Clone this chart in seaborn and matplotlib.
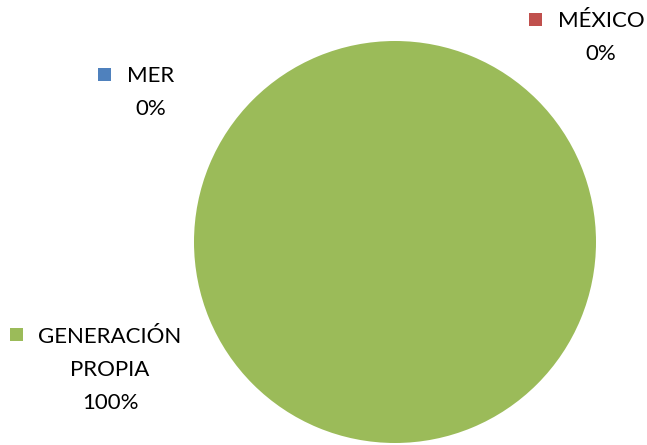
import matplotlib
matplotlib.use("Agg")
import matplotlib.pyplot as plt
import seaborn as sns
from matplotlib.patches import Rectangle

# data
categories = ["MER", "MÉXICO", "GENERACIÓN PROPIA"]
values = [0.0, 0.0, 100.0]
pct_labels = ["0%", "0%", "100%"]
colors = ["#4F81BD", "#C0504D", "#9BBB59"]

sns.set_style("white")
plt.rcParams["font.family"] = ["Lato", "DejaVu Sans"]

W, H = 647, 445
fig = plt.figure(figsize=(W / 100, H / 100), dpi=100)

# pie centred at (395, 242) px, radius ~201 px
cx, cy, r = 395, 242, 201
ax = fig.add_axes([(cx - r) / W, (H - cy - r) / H, 2 * r / W, 2 * r / H])
ax.pie(values, colors=colors, startangle=90, counterclock=False,
       wedgeprops=dict(linewidth=0))
ax.set_xlim(-1, 1)
ax.set_ylim(-1, 1)
ax.set_aspect("auto")
ax.axis("off")


def px(x, y):
    return x / W, 1 - y / H


fs = 16
# label blocks: (square left x, square top y, name lines, centre x, first line y)
layout = [
    (98, 68, ["MER"], 151, 76),
    (529, 13, ["MÉXICO"], 601, 21),
    (10, 328, ["GENERACIÓN", "PROPIA"], 110, 337),
]
line_h = 33
for (sqx, sqy, lines, tx, ty), pct, col in zip(layout, pct_labels, colors):
    x0, y0 = px(sqx, sqy + 13)
    fig.add_artist(Rectangle((x0, y0), 13 / W, 13 / H, transform=fig.transFigure,
                             facecolor=col, edgecolor="none"))
    all_lines = lines + [pct]
    for i, t in enumerate(all_lines):
        fig.text(*px(tx, ty + i * line_h), t, ha="center", va="center",
                 fontsize=fs, color="black")

fig.savefig("out.png", dpi=100)
